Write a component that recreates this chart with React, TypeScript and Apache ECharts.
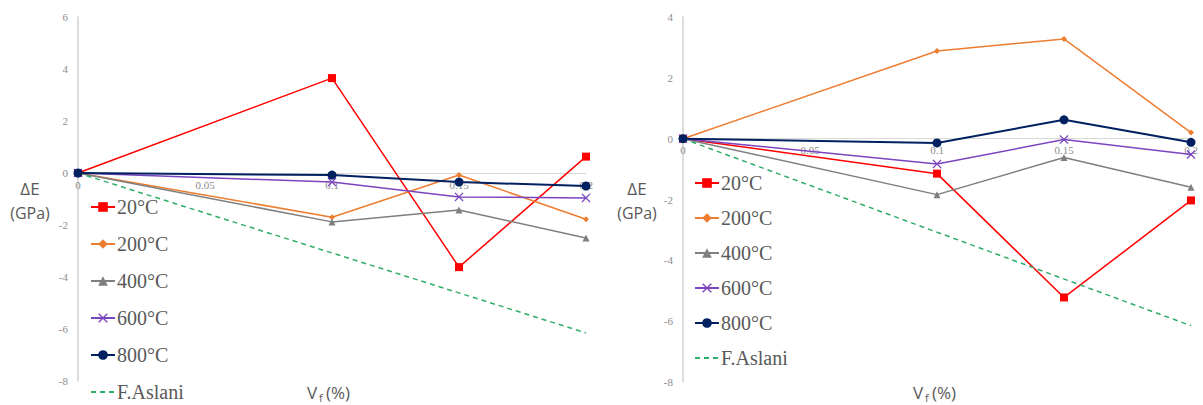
import React, { useEffect, useRef } from "react";
import * as echarts from "echarts";

const xValues = [0, 0.1, 0.15, 0.2];
const seriesNames = ["20°C", "200°C", "400°C", "600°C", "800°C"];
const leftValues = [
  [0, 3.65, -3.62, 0.63],
  [0, -1.7, -0.08, -1.78],
  [0, -1.88, -1.42, -2.5],
  [0, -0.35, -0.92, -0.96],
  [0, -0.08, -0.35, -0.5],
];
const rightValues = [
  [0, -1.15, -5.22, -2.03],
  [0, 2.88, 3.28, 0.2],
  [0, -1.84, -0.62, -1.6],
  [0, -0.83, -0.03, -0.52],
  [0, -0.14, 0.62, -0.12],
];
const aslaniName = "F.Aslani";
const aslaniX = [0, 0.2];
const aslaniY = [0, -6.15];
const xTicks = [0, 0.05, 0.1, 0.15, 0.2];

const colors = ["#FF0000", "#ED7D31", "#7F7F7F", "#7B44C0", "#002060"];
const crossPath =
  "path://M0,1 L1,0 L5,4 L9,0 L10,1 L6,5 L10,9 L9,10 L5,6 L1,10 L0,9 L4,5 Z";
const symbols = ["rect", "diamond", "triangle", crossPath, "circle"];
const symbolSizes = [8, 6, 7, 9, 9];

export default function App() {
  const ref = useRef<HTMLDivElement>(null);
  useEffect(() => {
    const chart = echarts.init(ref.current!, null, { renderer: "svg" });
    const mk = (vals: number[][], idx: number) =>
      vals.map((v, i) => ({
        name: seriesNames[i],
        type: "line",
        xAxisIndex: idx,
        yAxisIndex: idx,
        data: v.map((y, j) => [xValues[j], y]),
        symbol: symbols[i],
        symbolSize: symbolSizes[i],
        lineStyle: { color: colors[i], width: i === 4 ? 2 : 1.5 },
        itemStyle: { color: colors[i] },
      }));
    const aslani = (idx: number) => ({
      name: aslaniName,
      type: "line",
      xAxisIndex: idx,
      yAxisIndex: idx,
      data: aslaniX.map((x, j) => [x, aslaniY[j]]),
      symbol: "none",
      lineStyle: { color: "#2FAE6A", width: 1.5, type: [5, 4] },
      itemStyle: { color: "#2FAE6A" },
    });
    const xAxis = (idx: number, offset: number) => ({
      type: "value",
      gridIndex: idx,
      min: 0,
      max: 0.2,
      interval: 0.05,
      position: "bottom",
      offset,
      axisLine: { onZero: false, lineStyle: { color: "#D9D9D9", width: 1 } },
      axisTick: { show: false },
      splitLine: { show: false },
      axisLabel: {
        color: "#8C8C8C",
        fontFamily: "Liberation Serif",
        fontSize: 11,
        margin: 6,
        formatter: (v: number) =>
          String(xTicks.find((t) => Math.abs(t - v) < 1e-9) ?? v),
      },
    });
    const yAxis = (idx: number, max: number) => ({
      type: "value",
      gridIndex: idx,
      min: -8,
      max,
      interval: 2,
      axisLine: {
        show: true,
        onZero: false,
        lineStyle: { color: "#D0D0D0", width: 1.5 },
      },
      axisTick: { show: false },
      splitLine: { show: false },
      axisLabel: {
        color: "#8C8C8C",
        fontFamily: "Liberation Serif",
        fontSize: 11,
        margin: 10,
      },
    });
    const legendData = [
      ...seriesNames.map((n) => ({ name: n })),
      { name: aslaniName, itemStyle: { opacity: 0 } },
    ];
    const legendCommon = {
      orient: "vertical",
      itemWidth: 24,
      itemHeight: 12,
      padding: 0,
      height: 230,
      data: legendData,
      textStyle: {
        fontFamily: "Liberation Serif",
        fontSize: 20,
        color: "#595959",
        padding: [0, 0, 0, -3],
      },
      selectedMode: false,
    };
    const labelText = (x: number) => [
      {
        type: "text",
        x,
        y: 188,
        style: {
          text: "ΔE",
          font: "17px 'Open Sans'",
          fill: "#595959",
          align: "center",
          verticalAlign: "middle",
        },
      },
      {
        type: "text",
        x,
        y: 213,
        style: {
          text: "(GPa)",
          font: "16px 'Open Sans'",
          fill: "#595959",
          align: "center",
          verticalAlign: "middle",
        },
      },
    ];
    const vfText = (x: number) => [
      {
        type: "text",
        x,
        y: 392,
        style: {
          text: "V",
          font: "17px 'Open Sans'",
          fill: "#595959",
          align: "left",
          verticalAlign: "middle",
        },
      },
      {
        type: "text",
        x: x + 12,
        y: 397,
        style: {
          text: "f",
          font: "11px 'Open Sans'",
          fill: "#595959",
          align: "left",
          verticalAlign: "middle",
        },
      },
      {
        type: "text",
        x: x + 19,
        y: 392,
        style: {
          text: "(%)",
          font: "17px 'Open Sans'",
          fill: "#595959",
          align: "left",
          verticalAlign: "middle",
        },
      },
    ];
    chart.setOption({
      animation: false,
      backgroundColor: "#FFFFFF",
      grid: [
        { left: 78, top: 17, width: 508, height: 364 },
        { left: 683, top: 17, width: 508, height: 365 },
      ],
      xAxis: [xAxis(0, -208), xAxis(1, -243.3)],
      yAxis: [yAxis(0, 6), yAxis(1, 4)],
      legend: [
        { ...legendCommon, left: 90, top: 197, itemGap: 17 },
        { ...legendCommon, left: 694, top: 173, itemGap: 15 },
      ],
      graphic: [
        ...labelText(30),
        ...labelText(637),
        ...vfText(307),
        ...vfText(913),
      ],
      series: [
        ...mk(leftValues, 0),
        aslani(0),
        ...mk(rightValues, 1),
        aslani(1),
      ],
    });
    return () => chart.dispose();
  }, []);
  return (
    <div
      ref={ref}
      style={{ position: "fixed", left: 0, top: 0, width: 1203, height: 405 }}
    />
  );
}
